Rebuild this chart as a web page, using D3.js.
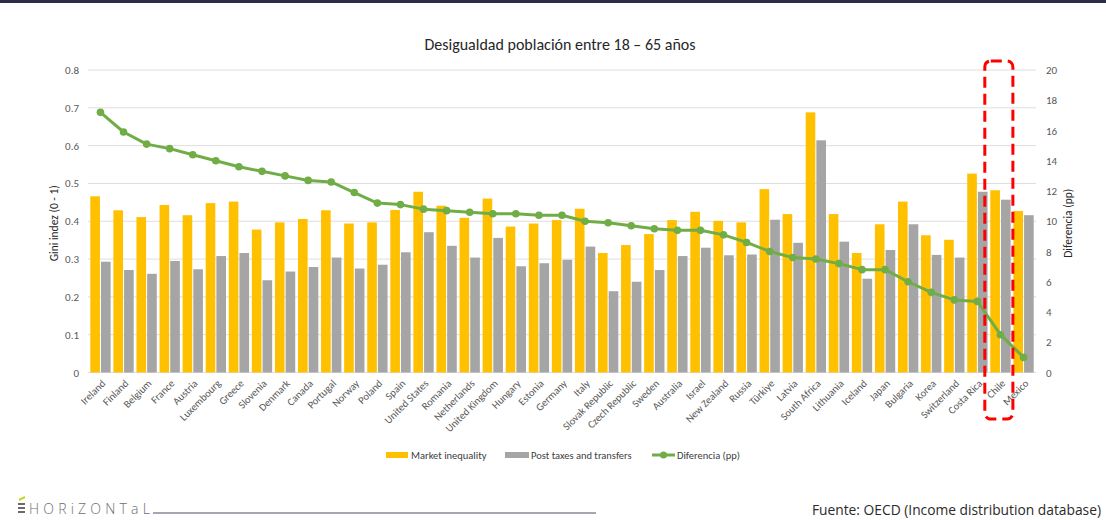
<!DOCTYPE html>
<html>
<head>
<meta charset="utf-8">
<script src="https://cdn.jsdelivr.net/npm/d3@7/dist/d3.min.js"></script>
<style>
  html, body { margin: 0; padding: 0; background: #fff; }
  svg { display: block; }
</style>
</head>
<body>
<svg id="chart" width="1106" height="520"></svg>
<script>
const countries = ["Ireland","Finland","Belgium","France","Austria","Luxembourg","Greece","Slovenia","Denmark","Canada","Portugal","Norway","Poland","Spain","United States","Romania","Netherlands","United Kingdom","Hungary","Estonia","Germany","Italy","Slovak Republic","Czech Republic","Sweden","Australia","Israel","New Zealand","Russia","Türkiye","Latvia","South Africa","Lithuania","Iceland","Japan","Bulgaria","Korea","Switzerland","Costa Rica","Chile","Mexico"];
const marketInequality = [0.466,0.429,0.411,0.443,0.416,0.448,0.452,0.378,0.397,0.406,0.429,0.394,0.397,0.430,0.478,0.441,0.409,0.460,0.386,0.394,0.403,0.433,0.316,0.337,0.366,0.403,0.425,0.401,0.397,0.485,0.419,0.688,0.419,0.316,0.392,0.452,0.363,0.351,0.526,0.482,0.427];
const postTaxes = [0.293,0.271,0.261,0.295,0.273,0.308,0.316,0.244,0.267,0.279,0.304,0.275,0.285,0.318,0.371,0.335,0.304,0.356,0.281,0.289,0.298,0.333,0.215,0.240,0.271,0.308,0.330,0.310,0.312,0.404,0.343,0.614,0.346,0.248,0.324,0.392,0.311,0.304,0.478,0.457,0.416];
const diferencia = [17.2,15.9,15.1,14.8,14.4,14.0,13.6,13.3,13.0,12.7,12.6,11.9,11.2,11.1,10.8,10.7,10.6,10.5,10.5,10.4,10.4,10.0,9.9,9.7,9.5,9.4,9.4,9.1,8.6,8.0,7.6,7.5,7.2,6.8,6.8,6.0,5.3,4.8,4.7,2.5,1.0];
const leftTicks = [0,0.1,0.2,0.3,0.4,0.5,0.6,0.7,0.8];
const rightTicks = [0,2,4,6,8,10,12,14,16,18,20];
const seriesNames = ["Market inequality","Post taxes and transfers","Diferencia (pp)"];
const highlighted = ["Chile"];

const colors = { market: "#FFC000", post: "#A5A5A5", diff: "#70AD47", grid: "#DEDEDE", text: "#595959" };
const font = "Carlito, Calibri, 'Liberation Sans Narrow', 'Liberation Sans', sans-serif";

const svg = d3.select("#chart");
const W = 1106, H = 520;
const plot = { left: 88, right: 1036, top: 70, bottom: 372.5 };

// top band
svg.append("rect").attr("x", 0).attr("y", 0).attr("width", W).attr("height", 3).attr("fill", "#2B2D45");

// title
svg.append("text").attr("x", 560).attr("y", 50).attr("text-anchor", "middle")
  .attr("font-family", font).attr("font-size", 16).attr("fill", "#262626")
  .text("Desigualdad población entre 18 – 65 años");

const x = d3.scaleBand().domain(countries).range([plot.left, plot.right]).paddingInner(0.12).paddingOuter(0.1);
const x1 = d3.scaleBand().domain(["m","p"]).range([0, x.bandwidth()]).paddingInner(0.1).paddingOuter(0);
const yL = d3.scaleLinear().domain([0, 0.8]).range([plot.bottom, plot.top]);
const yR = d3.scaleLinear().domain([0, 20]).range([plot.bottom, plot.top]);

// gridlines
svg.append("g").selectAll("line").data(leftTicks).join("line")
  .attr("x1", plot.left).attr("x2", plot.right)
  .attr("y1", d => yL(d)).attr("y2", d => yL(d))
  .attr("stroke", colors.grid).attr("stroke-width", 1);

// left axis
const axL = svg.append("g").attr("transform", `translate(${plot.left},0)`)
  .call(d3.axisLeft(yL).tickValues(leftTicks).tickSize(0).tickPadding(9)
    .tickFormat(d => d === 0 ? "0" : d.toFixed(1)));
axL.select(".domain").remove();
axL.selectAll("text").attr("font-family", font).attr("font-size", 11).attr("fill", colors.text);

// right axis
const axR = svg.append("g").attr("transform", `translate(${plot.right},0)`)
  .call(d3.axisRight(yR).tickValues(rightTicks).tickSize(0).tickPadding(10));
axR.select(".domain").remove();
axR.selectAll("text").attr("font-family", font).attr("font-size", 11).attr("fill", colors.text);

// axis titles
svg.append("text").attr("transform", `translate(58,${(plot.top+plot.bottom)/2+2}) rotate(-90)`)
  .attr("text-anchor", "middle").attr("font-family", font).attr("font-size", 11.5).attr("fill", "#262626")
  .text("Gini indez (0 - 1)");
svg.append("text").attr("transform", `translate(1072,${(plot.top+plot.bottom)/2+2}) rotate(-90)`)
  .attr("text-anchor", "middle").attr("font-family", font).attr("font-size", 11.5).attr("fill", "#262626")
  .text("Diferencia (pp)");

// bars
const rows = countries.map((c, i) => ({ c, m: marketInequality[i], p: postTaxes[i], d: diferencia[i] }));
svg.append("g").selectAll("rect").data(rows).join("rect")
  .attr("x", d => x(d.c) + x1("m")).attr("width", x1.bandwidth())
  .attr("y", d => yL(d.m)).attr("height", d => yL(0) - yL(d.m)).attr("fill", colors.market);
svg.append("g").selectAll("rect").data(rows).join("rect")
  .attr("x", d => x(d.c) + x1("p")).attr("width", x1.bandwidth())
  .attr("y", d => yL(d.p)).attr("height", d => yL(0) - yL(d.p)).attr("fill", colors.post);

// line
const cx = d => x(d.c) + x.bandwidth() / 2;
svg.append("path").datum(rows)
  .attr("d", d3.line().x(cx).y(d => yR(d.d)))
  .attr("fill", "none").attr("stroke", colors.diff).attr("stroke-width", 3).attr("stroke-linejoin", "round");
svg.append("g").selectAll("circle").data(rows).join("circle")
  .attr("cx", cx).attr("cy", d => yR(d.d)).attr("r", 3.8).attr("fill", colors.diff);

// category labels
svg.append("g").selectAll("text").data(countries).join("text")
  .attr("transform", d => `translate(${x(d) + x.bandwidth()/2 + 3},${plot.bottom + 9}) rotate(-45)`)
  .attr("text-anchor", "end").attr("dy", "0.35em")
  .attr("font-family", font).attr("font-size", 10.5).attr("fill", colors.text)
  .text(d => d);

// highlight box
highlighted.forEach(c => {
  const x0 = x(c) - 5.5, x2 = x(c) + x.step() - 0.5;
  svg.append("rect").attr("x", x0).attr("y", 61).attr("width", x2 - x0).attr("height", 358)
    .attr("rx", 6).attr("ry", 6).attr("fill", "none")
    .attr("stroke", "#FF0000").attr("stroke-width", 3).attr("stroke-dasharray", "11,6");
});

// legend
const lg = svg.append("g").attr("font-family", font).attr("font-size", 10.5).attr("fill", "#404040");
lg.append("rect").attr("x", 386).attr("y", 452).attr("width", 22).attr("height", 6).attr("fill", colors.market);
lg.append("text").attr("x", 411).attr("y", 459).text(seriesNames[0]);
lg.append("rect").attr("x", 505).attr("y", 452).attr("width", 24).attr("height", 6).attr("fill", colors.post);
lg.append("text").attr("x", 531).attr("y", 459).text(seriesNames[1]);
lg.append("line").attr("x1", 652).attr("x2", 675).attr("y1", 455).attr("y2", 455).attr("stroke", colors.diff).attr("stroke-width", 3);
lg.append("circle").attr("cx", 663.5).attr("cy", 455).attr("r", 3.5).attr("fill", colors.diff);
lg.append("text").attr("x", 677).attr("y", 459).text(seriesNames[2]);

// footer logo
const logo = svg.append("g");
[0,1,2].forEach(i => logo.append("rect").attr("x", 18).attr("y", 503 + i*4).attr("width", 7).attr("height", 2).attr("fill", "#6B6B6B"));
logo.append("line").attr("x1", 19).attr("y1", 500).attr("x2", 25).attr("y2", 497).attr("stroke", "#C8D62E").attr("stroke-width", 2);
logo.append("text").attr("x", 29).attr("y", 514).attr("font-family", "'Open Sans', sans-serif").attr("font-size", 14)
  .attr("letter-spacing", 4.2).attr("fill", "#6E6E6E").attr("font-weight", 300).text("HORiZONTaL");
logo.append("line").attr("x1", 153).attr("x2", 596).attr("y1", 513).attr("y2", 513).attr("stroke", "#4A5068").attr("stroke-width", 1);

svg.append("text").attr("x", 1101).attr("y", 515).attr("text-anchor", "end")
  .attr("font-family", "'Open Sans', sans-serif").attr("font-size", 13.8).attr("fill", "#2A2A2A")
  .text("Fuente: OECD (Income distribution database)");
</script>
</body>
</html>
